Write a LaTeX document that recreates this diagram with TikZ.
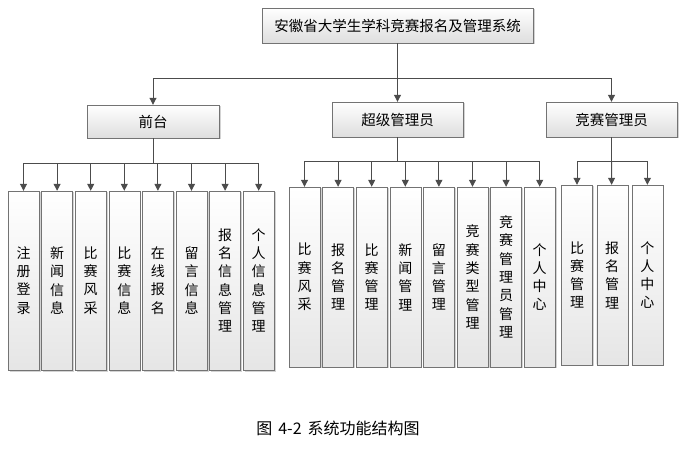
\documentclass[tikz,border=0pt]{standalone}
\usepackage{fontspec}
\newfontfamily\cjk{Noto Sans CJK SC}
\usetikzlibrary{positioning,shadows,arrows.meta}

\tikzstyle{topbox} = [rectangle, minimum width=131pt, minimum height=35pt, text centered, draw=black!55, top color=white, bottom color=black!13, drop shadow={shadow xshift=1.5pt, shadow yshift=-1.5pt, opacity=0.35}, font=\cjk\fontsize{14.5}{16}\selectfont]
\tikzstyle{leaf} = [rectangle, minimum width=31pt, minimum height=180pt, text width=14pt, text centered, draw=black!55, top color=white, bottom color=black!10, drop shadow={shadow xshift=1.5pt, shadow yshift=-1.5pt, opacity=0.35}, font=\cjk\fontsize{14}{18.3}\selectfont]
\tikzstyle{arrow} = [line width=1pt, draw=black!70, ->, >={Triangle[length=7pt,width=7pt]}]

\begin{document}
\begin{tikzpicture}[x=1pt, y=-1pt, node distance=33.6pt]
    \useasboundingbox (0,0) rectangle (699,462);

    \node (title) [topbox, minimum width=271pt] at (397.5,25.5) {安徽省大学生学科竞赛报名及管理系统};
    \node (super) [topbox, node distance=94pt, below of=title] {超级管理员};
    \node (front) [topbox, minimum width=132pt, minimum height=33pt, node distance=244.5pt, left of=super, yshift=-2pt] {前台};
    \node (judge) [topbox, node distance=214pt, right of=super] {竞赛管理员};

    % front end
    \node (f1) [leaf, minimum height=179pt] at (23.5,280.5) {注\\册\\登\\录};
    \node (f2) [leaf, minimum height=179pt, right of=f1] {新\\闻\\信\\息};
    \node (f3) [leaf, minimum height=179pt, right of=f2] {比\\赛\\风\\采};
    \node (f4) [leaf, minimum height=179pt, right of=f3] {比\\赛\\信\\息};
    \node (f5) [leaf, minimum height=179pt, right of=f4] {在\\线\\报\\名};
    \node (f6) [leaf, minimum height=179pt, right of=f5] {留\\言\\信\\息};
    \node (f7) [leaf, minimum height=179pt, right of=f6] {报\\名\\信\\息\\管\\理};
    \node (f8) [leaf, minimum height=179pt, right of=f7] {个\\人\\信\\息\\管\\理};

    % super admin
    \node (s1) [leaf] at (304.5,277) {比\\赛\\风\\采};
    \node (s2) [leaf, right of=s1] {报\\名\\管\\理};
    \node (s3) [leaf, right of=s2] {比\\赛\\管\\理};
    \node (s4) [leaf, right of=s3] {新\\闻\\管\\理};
    \node (s5) [leaf, right of=s4] {留\\言\\管\\理};
    \node (s6) [leaf, right of=s5] {竞\\赛\\类\\型\\管\\理};
    \node (s7) [leaf, right of=s6] {竞\\赛\\管\\理\\员\\管\\理};
    \node (s8) [leaf, right of=s7] {个\\人\\中\\心};

    % contest admin
    \node (j1) [leaf] at (577,275) {比\\赛\\管\\理};
    \node (j2) [leaf, node distance=35.2pt, right of=j1] {报\\名\\管\\理};
    \node (j3) [leaf, node distance=35.2pt, right of=j2] {个\\人\\中\\心};

    \node (caption) [font=\cjk\fontsize{16}{18}\selectfont] at (338,428) {图\hspace{6pt}4-2\hspace{6pt}系统功能结构图};

    \coordinate (tbus) at (397.5,79);
    \coordinate (fbus) at (153,164);
    \coordinate (sbus) at (397.5,162);
    \coordinate (jbus) at (611.5,162);

    \draw [arrow] (title) -- (tbus) -| (front);
    \draw [arrow] (title) -- (super);
    \draw [arrow] (tbus) -| (judge);

    \draw [arrow] (front) -- (fbus) -| (f1);
    \draw [arrow] (fbus) -| (f2);
    \draw [arrow] (fbus) -| (f3);
    \draw [arrow] (fbus) -| (f4);
    \draw [arrow] (fbus) -| (f5);
    \draw [arrow] (fbus) -| (f6);
    \draw [arrow] (fbus) -| (f7);
    \draw [arrow] (fbus) -| (f8);

    \draw [arrow] (super) -- (sbus) -| (s1);
    \draw [arrow] (sbus) -| (s2);
    \draw [arrow] (sbus) -| (s3);
    \draw [arrow] (sbus) -| (s4);
    \draw [arrow] (sbus) -| (s5);
    \draw [arrow] (sbus) -| (s6);
    \draw [arrow] (sbus) -| (s7);
    \draw [arrow] (sbus) -| (s8);

    \draw [arrow] (judge) -- (jbus) -| (j1);
    \draw [arrow] (jbus) -- (j2);
    \draw [arrow] (jbus) -| (j3);

\end{tikzpicture}
\end{document}
